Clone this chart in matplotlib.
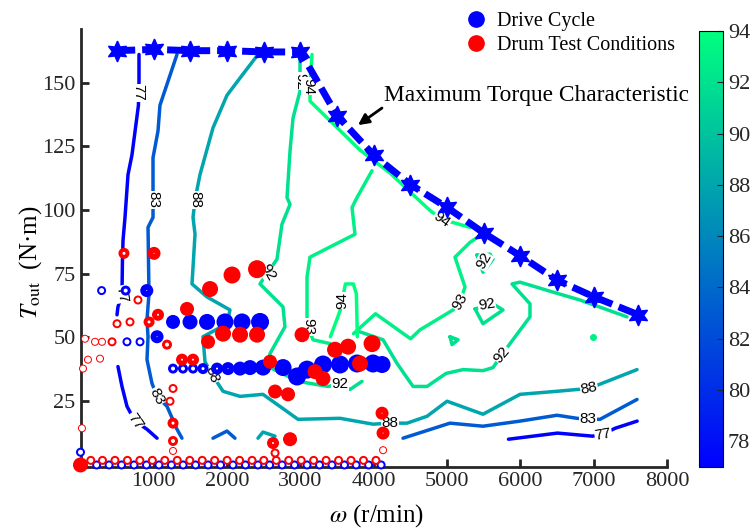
import numpy as np
import matplotlib
matplotlib.use("Agg")
import matplotlib.pyplot as plt
from matplotlib.lines import Line2D
from matplotlib.colors import Normalize
from matplotlib.cm import ScalarMappable

plt.rcParams["font.family"] = ["Liberation Serif", "DejaVu Serif"]
plt.rcParams["mathtext.fontset"] = "stix"

# ---- maximum torque envelope (r/min, N·m) ----
MAX_RPM = [500, 1000, 1500, 2000, 2500, 3000, 3500, 4000, 4500, 5000, 5500, 6000, 6500, 7000, 7600]
MAX_T = [162.5, 163, 162.5, 162.5, 162, 162, 137, 121.5, 110, 101, 91, 82, 72.5, 66, 59]

# ---- efficiency contour traces (r/min, N·m), one list per piece ----
C77_A = [(798, 161), (798, 150.5), (790, 141), (702, 121.6), (648, 113.9), (607, 97.1),
         (580, 88.1), (572, 80), (566, 67), (511, 62), (498, 58.9)]
C77_B = [(511, 38.6), (566, 30.8), (634, 23.0), (743, 17.2), (907, 14.0), (1044, 10.5)]
C77_C = [(5838, 10.1), (6506, 12.5), (6984, 11.3), (7130, 12.1), (7293, 14.4), (7593, 17.2)]

C83_A = [(1316, 161), (1084, 141.1), (1057, 131.0), (989, 120.5), (989, 108.8), (989, 97.1),
         (921, 93.2), (934, 67.1), (907, 56.9), (921, 50.3), (907, 41.3), (975, 32.0),
         (1043, 26.9), (1180, 23.0), (1316, 14.0), (1384, 10.5)]
C83_B = [(4399, 10.5), (5040, 16.4), (5490, 15.2), (5995, 17.2), (6500, 19.5), (6772, 18.3),
         (6922, 17.9), (7086, 17.9), (7591, 25.7)]
C83_C = [(1807, 10.5), (1998, 13.3), (2107, 10.5)]

C88_A = [(2421, 161), (2203, 152.8), (1998, 145.0), (1807, 132.2), (1630, 113.9), (1562, 104.1),
         (1535, 97.1), (1562, 90.5), (1521, 71.0), (1725, 65.9), (2039, 60.8), (1998, 55.4),
         (1671, 50.3), (1698, 40.5), (1794, 35.5), (1944, 28.9), (2176, 26.9), (2489, 27.7),
         (2967, 17.9), (3540, 18.3), (3990, 16.0), (4222, 16.4), (4454, 16.4), (4727, 19.1),
         (5000, 25.0), (5490, 19.9), (5995, 27.7), (6500, 28.9), (6772, 29.6), (6936, 30.0),
         (7113, 32.0), (7591, 37.4)]
C88_B = [(2421, 10.5), (2489, 12.9), (2653, 11.3)]

C92_A = [(2994, 160.6), (2994, 146.6), (2899, 136.1), (2858, 123.2), (2817, 104.9), (2858, 102.2),
         (2748, 94.4), (2680, 80.7), (2557, 75.6), (2448, 71.0), (2762, 62.0), (2789, 54.2),
         (2585, 43.7), (2560, 38.6), (2967, 32.8), (3376, 30.8), (3540, 31.6), (3676, 29.6),
         (3840, 32.8)]
C92_B = [(3813, 52.2), (4127, 49.1), (4318, 39.8), (4536, 30.8), (4727, 30.8), (4986, 35.9),
         (5218, 37.4), (5490, 37.0), (5627, 38.2), (5750, 43.3), (5859, 47.6), (6131, 58.1),
         (6131, 63.2), (5886, 71.0), (5995, 71.7), (6445, 67.8), (6813, 64.7), (7454, 58.1)]
C92_L1 = [(5408, 82.3), (5586, 82.7), (5627, 80.7), (5490, 75.6), (5408, 82.3)]
C92_L2 = [(5382, 61.2), (5490, 55.4), (5763, 60.8), (5627, 63.2), (5382, 61.2)]
C92_L3 = [(5040, 50.3), (5150, 49.1), (5068, 47.2), (5040, 50.3)]

C93_A = [(3724, 51.5), (4024, 59.3), (4502, 49.5), (4631, 53.0), (5081, 60.8), (5177, 63.9),
         (5245, 69.8), (5108, 81.5), (5313, 87.3), (5477, 90.5)]
C93_B = [(3976, 115.4), (3772, 104.9), (3704, 101.0), (3744, 90.5), (3130, 81.5), (3090, 73.7),
         (3090, 56.9), (3104, 54.2), (3171, 49.1), (3404, 47.6)]

C94_A = [(3158, 161), (3131, 150), (3131, 142.7), (3813, 123.5), (4222, 114.5), (4536, 106.0),
         (4768, 99.8), (4931, 96.3), (5081, 95.1), (5313, 93.2)]
C94_B = [(3409, 50.3), (3545, 60.8), (3572, 64.7), (3613, 71.0), (3722, 71.0), (3763, 67.1),
         (3776, 50.3)]

CONTOURS = [(77, C77_A), (77, C77_B), (77, C77_C),
            (83, C83_A), (83, C83_B), (83, C83_C),
            (88, C88_A), (88, C88_B),
            (92, C92_A), (92, C92_B), (92, C92_L1), (92, C92_L2), (92, C92_L3),
            (93, C93_A), (93, C93_B),
            (94, C94_A), (94, C94_B)]
SPOTS = [(93, 6993, 50.3)]

# inline labels: level, r/min, N·m, rotation
LABELS = [(77, 790, 146, -90), (77, 566, 67, -80), (77, 743, 17.2, -55), (77, 7130, 12.1, 10),
          (83, 989, 104.1, -90), (83, 1043, 26.9, -62), (83, 6922, 17.9, 0),
          (88, 1562, 104.1, -90), (88, 1794, 35.5, -70), (88, 4222, 16.4, 0), (88, 6936, 30.0, 12),
          (92, 2994, 150.5, -90), (92, 2557, 75.6, -60), (92, 3540, 31.6, 0),
          (92, 5750, 43.3, 50), (92, 5500, 80, 60), (92, 5540, 63.0, 10),
          (93, 5177, 63.9, 60), (93, 3104, 54.2, -90),
          (94, 3110, 148.5, -90), (94, 4931, 96.3, -35), (94, 3565, 64.5, 90)]

# ---- operating points: r/min, N·m, marker diameter (px) ----
BLUE_IDLE_RPM = [220, 390, 560, 730, 900, 1070, 1240, 1400, 1570, 1740, 1910, 2080, 2250,
                 2420, 2580, 2750, 2920, 3090, 3260, 3430, 3600, 3760, 3930, 4100]
BLUE_RPM = [0, 288, 616, 904,
            1262, 1494, 1726, 1971, 2203, 2449,
            634, 812, 1044,
            1262, 1398, 1535, 1671, 1862, 2012, 2176, 2312, 2490, 2763,
            2954, 3090, 3308, 3540, 3772, 3990, 4113]
BLUE_T = [5, 68.4, 68.4, 68.4,
          56.1, 56.1, 56.1, 56.1, 56.1, 56.1,
          48.3, 48.3, 50.3,
          37.8, 37.8, 37.8, 37.8, 37.8, 37.8, 37.8, 38.2, 38.2, 38.2,
          34.7, 37.4, 39.4, 39.4, 39.8, 39.8, 39.4]
BLUE_SIZE = [9, 9, 10, 13,
             14, 15, 16, 17, 17, 18,
             9, 9, 13,
             10, 10, 10, 11, 12, 13, 14, 15, 16, 17,
             18, 18, 18, 18, 18, 18, 17]

RED_IDLE_RPM = [140, 300, 470, 640, 810, 980, 1150, 1320, 1490, 1660, 1830, 2000, 2170,
                2340, 2500, 2670, 2840, 3010, 3180, 3350, 3520, 3690, 3860, 4030]
RED_RPM = [593, 1003, 784, 498, 675, 935, 1057, 1453, 1767, 2067, 2408,
           61, 198, 293, 430, 1180, 102, 266, 34, 20,
           1385, 1535, 1740, 1944, 2176, 2408, 2585, 2654, 2831,
           3022, 3199, 3308, 3472, 3650, 3977, 3813,
           4113, 4127, 4127, 2858, 2626, 2654,
           1262, 1221, 1262, 1262, 1262, 0]
RED_T = [83.0, 83.0, 64.7, 55.4, 56.1, 56.1, 58.9, 61.2, 69.0, 74.5, 76.8,
         49.5, 48.3, 48.3, 48.3, 47.2, 41.3, 41.7, 37.8, 14.4,
         41.3, 41.3, 48.3, 51.5, 51.1, 51.1, 40.5, 28.8, 27.7,
         51.1, 36.6, 33.9, 45.2, 46.4, 47.6, 39.8,
         20.3, 12.5, 5.8, 10.1, 8.6, 4.7,
         30.0, 25.0, 16.4, 9.4, 5.5, 0]
RED_SIZE = [11, 13, 9, 9, 9, 11, 12, 14, 16, 17, 18,
            8, 8, 8, 9, 10, 8, 8, 8, 8,
            12, 12, 14, 16, 16, 16, 14, 14, 14,
            15, 15, 15, 16, 16, 17, 16,
            13, 13, 8, 14, 12, 9,
            9, 9, 11, 10, 8, 15]

cmap = plt.get_cmap("winter")
norm = Normalize(77, 94)
PX = 0.72  # px -> pt at 100 dpi

fig = plt.figure(figsize=(7.55, 5.31), dpi=100)
ax = fig.add_axes([80.5 / 755, 64 / 531, 586.5 / 755, 438 / 531])
ax.set_xlim(0, 8000)
ax.set_ylim(-0.8, 171)

for level, pts in CONTOURS:
    xs, ys = zip(*pts)
    ax.plot(xs, ys, color=cmap(norm(level)), lw=2.5, zorder=2,
            solid_capstyle="round", solid_joinstyle="round")
for level, x, y in SPOTS:
    ax.plot([x], [y], "o", ms=4, color=cmap(norm(level)), zorder=2)

for level, x, y, rot in LABELS:
    ax.text(x, y, str(level), rotation=rot, ha="center", va="center", fontsize=11,
            family=["Liberation Sans", "DejaVu Sans"], zorder=3,
            bbox=dict(fc="white", ec="none", pad=0.3))

ax.plot(MAX_RPM, MAX_T, color="b", lw=5, dashes=(2.6, 1.0), marker=(6, 1, 0),
        ms=15, mfc="b", mec="b", zorder=4)


def rings(x, y, size, color, z):
    # thick-edged circles: small ones keep a white centre, large ones fill in
    x, y, o = np.asarray(x, float), np.asarray(y, float), np.asarray(size, float)
    ax.scatter(x, y, s=(o * PX) ** 2, c=color, linewidths=0, zorder=z, clip_on=False)
    hole = 14 - o
    m = hole > 0
    ax.scatter(x[m], y[m], s=(hole[m] * PX) ** 2, c="white", linewidths=0,
               zorder=z + 0.1, clip_on=False)


rings(BLUE_IDLE_RPM + BLUE_RPM, [0] * len(BLUE_IDLE_RPM) + BLUE_T,
      [9] * len(BLUE_IDLE_RPM) + BLUE_SIZE, "b", 5)
rings(RED_IDLE_RPM + RED_RPM, [1.8] * len(RED_IDLE_RPM) + RED_T,
      [9] * len(RED_IDLE_RPM) + RED_SIZE, "r", 6)

ax.annotate("", xy=(3785, 133.3), xytext=(4112, 140),
            arrowprops=dict(arrowstyle="-|>", color="k", lw=2, mutation_scale=16,
                            shrinkA=0, shrinkB=0), zorder=7)
ax.text(4140, 145, "Maximum Torque Characteristic", fontsize=16.8, ha="left", va="center",
        zorder=7)

for side in ("top", "right"):
    ax.spines[side].set_visible(False)
for side in ("left", "bottom"):
    ax.spines[side].set_linewidth(2)
    ax.spines[side].set_color("#262626")
ax.set_xticks(range(1000, 8001, 1000))
ax.set_yticks(range(25, 151, 25))
ax.tick_params(direction="in", length=6, width=2, labelsize=16, colors="#262626")

ax.set_xlabel(r"$\omega$ (r/min)", fontsize=18)
ax.set_ylabel(r"$T_{\rm out}$  (N·m)", fontsize=18)
ax.xaxis.set_label_coords(0.504, -0.08)
ax.yaxis.set_label_coords(-0.062, 0.468)

handles = [Line2D([], [], ls="none", marker="o", ms=11, mfc="b", mec="b"),
           Line2D([], [], ls="none", marker="o", ms=11, mfc="r", mec="r")]
fig.legend(handles, ["Drive Cycle", "Drum Test Conditions"], loc="upper left",
           bbox_to_anchor=(466 / 755, 1 - 12 / 531), frameon=False, fontsize=14.5,
           handlelength=1.0, handletextpad=0.55, labelspacing=0.22,
           borderpad=0, borderaxespad=0)

cax = fig.add_axes([699 / 755, 64 / 531, 24 / 755, 436 / 531])
cb = fig.colorbar(ScalarMappable(norm=norm, cmap=cmap), cax=cax, ticks=range(78, 95, 2))
cb.outline.set_linewidth(0.8)
cb.ax.tick_params(direction="in", length=4, width=0.8, labelsize=16, colors="#262626")

fig.savefig("out.png", dpi=100)
